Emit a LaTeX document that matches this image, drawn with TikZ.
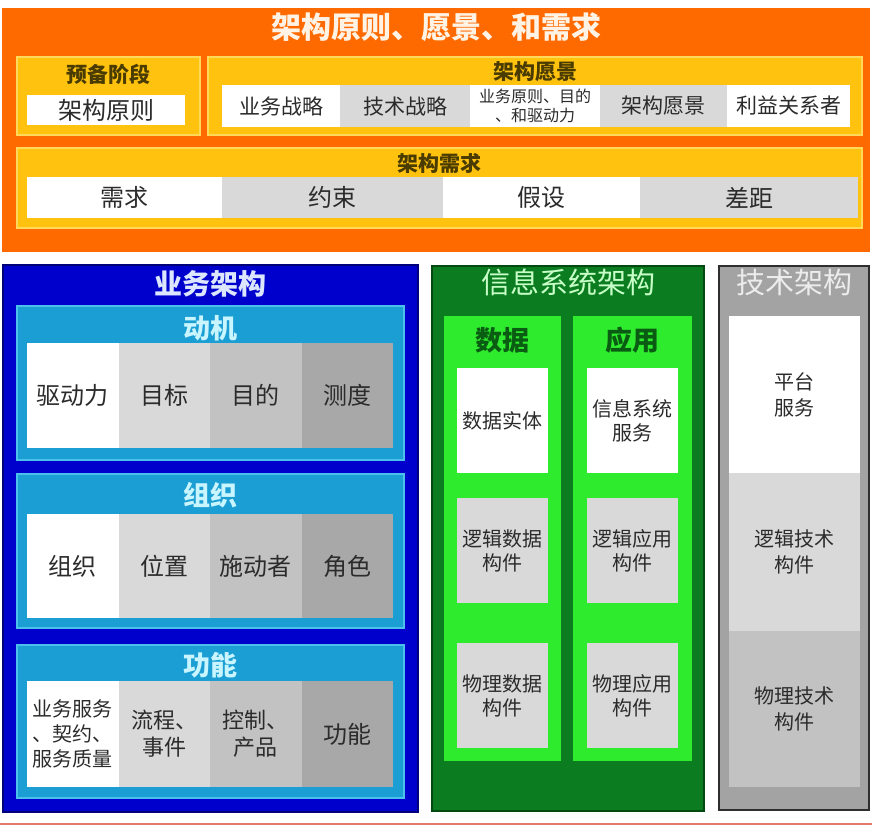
\documentclass[tikz,border=0pt]{standalone}
\usepackage{fontspec}
\setmainfont{Noto Sans CJK SC}
\usepackage{xcolor}
\usetikzlibrary{positioning}
\definecolor{toporange}{HTML}{FF6A00}
\definecolor{boxyellow}{HTML}{FFC20E}
\definecolor{edgeyellow}{HTML}{FFD95A}
\definecolor{bizblue}{HTML}{0000CD}
\definecolor{bizedge}{HTML}{00007A}
\definecolor{panelcyan}{HTML}{1B9ED3}
\definecolor{cyanedge}{HTML}{4CC0EA}
\definecolor{isgreen}{HTML}{0B7D20}
\definecolor{isedge}{HTML}{034A10}
\definecolor{litegreen}{HTML}{2EEB2E}
\definecolor{techgrey}{HTML}{A3A3A3}
\definecolor{techedge}{HTML}{2E2E2E}
\definecolor{cellA}{HTML}{D9D9D9}
\definecolor{cellB}{HTML}{C2C2C2}
\definecolor{cellC}{HTML}{A8A8A8}
\definecolor{celltext}{HTML}{2B2B2B}
\definecolor{darkolive}{HTML}{4A3C00}
\definecolor{titlecream}{HTML}{FFF3E6}
\definecolor{titleblue}{HTML}{DCE6FF}
\definecolor{titlecyan}{HTML}{C8F5FF}
\definecolor{titlegreen}{HTML}{C8FFC8}
\definecolor{titlegrey}{HTML}{ECECEC}
\definecolor{deepgreen}{HTML}{0A5C12}
\definecolor{rulered}{HTML}{E07A6A}
\begin{document}
\begin{tikzpicture}[x=1pt,y=-1pt,every node/.style={outer sep=0pt,inner sep=0pt}]
\tikzstyle{panel}=[anchor=north west]
\tikzstyle{ybox}=[panel,fill=boxyellow,draw=edgeyellow,line width=1.5pt]
\tikzstyle{cpanel}=[panel,fill=panelcyan,draw=cyanedge,line width=1.5pt,
minimum width=387pt]
\tikzstyle{cell}=[text=celltext,align=center]
\tikzstyle{yhead}=[text=darkolive,font=\fontsize{21}{23}\selectfont\bfseries]
\tikzstyle{chead}=[text=titlecyan,font=\fontsize{27}{29}\selectfont\bfseries]
\tikzstyle{ghead}=[text=deepgreen,font=\fontsize{27}{29}\selectfont\bfseries]
\useasboundingbox (0,0) rectangle (872,826);
\fill [white] (0,0) rectangle (872,826);
% principles, vision and requirements
\node (top) [panel,fill=toporange,minimum width=868pt,minimum height=244pt] at (2,8) {};
\node (topT) [below=5pt of top.north,text=titlecream,
font=\fontsize{30}{32}\selectfont\bfseries] {架构原则、愿景、和需求};
\node (prep) [ybox,minimum width=183pt,minimum height=78pt] at (17,57) {};
\node (prepT) [yhead,below=7pt of prep.north] {预备阶段};
\node (prin) [cell,fill=white,minimum width=158pt,minimum height=30pt,
font=\fontsize{24}{26}\selectfont] at (106,110) {架构原则};
\node (vis) [ybox,minimum width=654pt,minimum height=78pt] at (208,57) {};
\node (v1) [cell,panel,fill=white,minimum width=118pt,minimum height=42pt,
font=\fontsize{21}{23}\selectfont] at (222,85) {业务战略};
\node (v2) [cell,right=0pt of v1,fill=cellA,minimum width=130pt,minimum height=42pt,
font=\fontsize{21}{23}\selectfont] {技术战略};
\node (v3) [cell,right=0pt of v2,fill=white,minimum width=130pt,minimum height=42pt,
font=\fontsize{16}{19}\selectfont] {业务原则、目的\\、和驱动力};
\node (v4) [cell,right=0pt of v3,fill=cellA,minimum width=127pt,minimum height=42pt,
font=\fontsize{21}{23}\selectfont] {架构愿景};
\node (v5) [cell,right=0pt of v4,fill=white,minimum width=123pt,minimum height=42pt,
font=\fontsize{21}{23}\selectfont] {利益关系者};
\node (visT) [yhead,below=5pt of vis.north] {架构愿景};
\node (req) [ybox,minimum width=845pt,minimum height=80pt] at (17,148) {};
\node (reqT) [yhead,below=5pt of req.north] {架构需求};
\node (r1) [cell,panel,fill=white,minimum width=195pt,minimum height=41pt,
font=\fontsize{24}{26}\selectfont] at (27,177) {需求};
\node (r2) [cell,right=0pt of r1,fill=cellA,minimum width=221pt,minimum height=41pt,
font=\fontsize{24}{26}\selectfont] {约束};
\node (r3) [cell,right=0pt of r2,fill=white,minimum width=197pt,minimum height=41pt,
font=\fontsize{24}{26}\selectfont] {假设};
\node (r4) [cell,right=0pt of r3,fill=cellA,minimum width=218pt,minimum height=41pt,
font=\fontsize{24}{26}\selectfont] {差距};
% business architecture
\node (ba) [panel,fill=bizblue,draw=bizedge,line width=1.5pt,minimum width=415pt,
minimum height=547pt] at (3,265) {};
\node (baT) [below=6pt of ba.north,text=titleblue,
font=\fontsize{28}{30}\selectfont\bfseries] {业务架构};
\node (mot) [cpanel,minimum height=154pt] at (17,306) {};
\node (motT) [chead,below=9pt of mot.north] {动机};
\node (m1) [cell,panel,fill=white,minimum width=91.5pt,minimum height=105pt,
font=\fontsize{24}{26}\selectfont] at (27,343) {驱动力};
\node (m2) [cell,right=0pt of m1,fill=cellA,minimum width=91.5pt,minimum height=105pt,
font=\fontsize{24}{26}\selectfont] {目标};
\node (m3) [cell,right=0pt of m2,fill=cellB,minimum width=91.5pt,minimum height=105pt,
font=\fontsize{24}{26}\selectfont] {目的};
\node (m4) [cell,right=0pt of m3,fill=cellC,minimum width=91.5pt,minimum height=105pt,
font=\fontsize{24}{26}\selectfont] {测度};
\node (org) [cpanel,minimum height=154pt] at (17,474) {};
\node (orgT) [chead,below=8pt of org.north] {组织};
\node (o1) [cell,panel,fill=white,minimum width=91.5pt,minimum height=104pt,
font=\fontsize{24}{26}\selectfont] at (27,514) {组织};
\node (o2) [cell,right=0pt of o1,fill=cellA,minimum width=91.5pt,minimum height=104pt,
font=\fontsize{24}{26}\selectfont] {位置};
\node (o3) [cell,right=0pt of o2,fill=cellB,minimum width=91.5pt,minimum height=104pt,
font=\fontsize{24}{26}\selectfont] {施动者};
\node (o4) [cell,right=0pt of o3,fill=cellC,minimum width=91.5pt,minimum height=104pt,
font=\fontsize{24}{26}\selectfont] {角色};
\node (fun) [cpanel,minimum height=153pt] at (17,645) {};
\node (funT) [chead,below=7pt of fun.north] {功能};
\node (f1) [cell,panel,fill=white,minimum width=91.5pt,minimum height=106pt,
font=\fontsize{20}{25}\selectfont] at (27,681) {业务服务\\、契约、\\服务质量};
\node (f2) [cell,right=0pt of f1,fill=cellA,minimum width=91.5pt,minimum height=106pt,
font=\fontsize{22}{27}\selectfont] {流程、\\事件};
\node (f3) [cell,right=0pt of f2,fill=cellB,minimum width=91.5pt,minimum height=106pt,
font=\fontsize{22}{27}\selectfont] {控制、\\产品};
\node (f4) [cell,right=0pt of f3,fill=cellC,minimum width=91.5pt,minimum height=106pt,
font=\fontsize{24}{26}\selectfont] {功能};
% information systems architecture
\node (isa) [panel,fill=isgreen,draw=isedge,line width=1.5pt,minimum width=272pt,
minimum height=545pt] at (432,266) {};
\node (isaT) [below=3pt of isa.north,text=titlegreen,
font=\fontsize{29}{31}\selectfont] {信息系统架构};
\node (dat) [panel,fill=litegreen,minimum width=117pt,minimum height=445pt] at (444,316) {};
\node (datT) [ghead,below=11pt of dat.north] {数据};
\node (d1) [cell,fill=white,anchor=north,yshift=-52pt,minimum width=91pt,
minimum height=105pt,font=\fontsize{20}{24}\selectfont] at (dat.north) {数据实体};
\node (d2) [cell,below=25pt of d1,fill=cellA,minimum width=91pt,minimum height=105pt,
font=\fontsize{20}{24}\selectfont] {逻辑数据\\构件};
\node (d3) [cell,below=40pt of d2,fill=cellA,minimum width=91pt,minimum height=105pt,
font=\fontsize{20}{24}\selectfont] {物理数据\\构件};
\node (app) [panel,fill=litegreen,minimum width=119pt,minimum height=445pt] at (573,316) {};
\node (appT) [ghead,below=11pt of app.north] {应用};
\node (a1) [cell,fill=white,anchor=north,yshift=-52pt,minimum width=91pt,
minimum height=105pt,font=\fontsize{20}{24}\selectfont] at (app.north) {信息系统\\服务};
\node (a2) [cell,below=25pt of a1,fill=cellA,minimum width=91pt,minimum height=105pt,
font=\fontsize{20}{24}\selectfont] {逻辑应用\\构件};
\node (a3) [cell,below=40pt of a2,fill=cellA,minimum width=91pt,minimum height=105pt,
font=\fontsize{20}{24}\selectfont] {物理应用\\构件};
% technology architecture
\node (ta) [panel,fill=techgrey,draw=techedge,line width=1.5pt,minimum width=150pt,
minimum height=544pt] at (719,266) {};
\node (taT) [below=3pt of ta.north,text=titlegrey,
font=\fontsize{29}{31}\selectfont] {技术架构};
\node (t1) [cell,fill=white,anchor=north,yshift=-50pt,minimum width=131pt,
minimum height=157pt,font=\fontsize{20}{26}\selectfont] at (ta.north) {平台\\服务};
\node (t2) [cell,below=0pt of t1,fill=cellA,minimum width=131pt,minimum height=158pt,
font=\fontsize{20}{26}\selectfont] {逻辑技术\\构件};
\node (t3) [cell,below=0pt of t2,fill=cellB,minimum width=131pt,minimum height=156pt,
font=\fontsize{20}{26}\selectfont] {物理技术\\构件};
%
\draw [rulered,line width=1.5pt] (0,824) -- (872,824);
\end{tikzpicture}
\end{document}
